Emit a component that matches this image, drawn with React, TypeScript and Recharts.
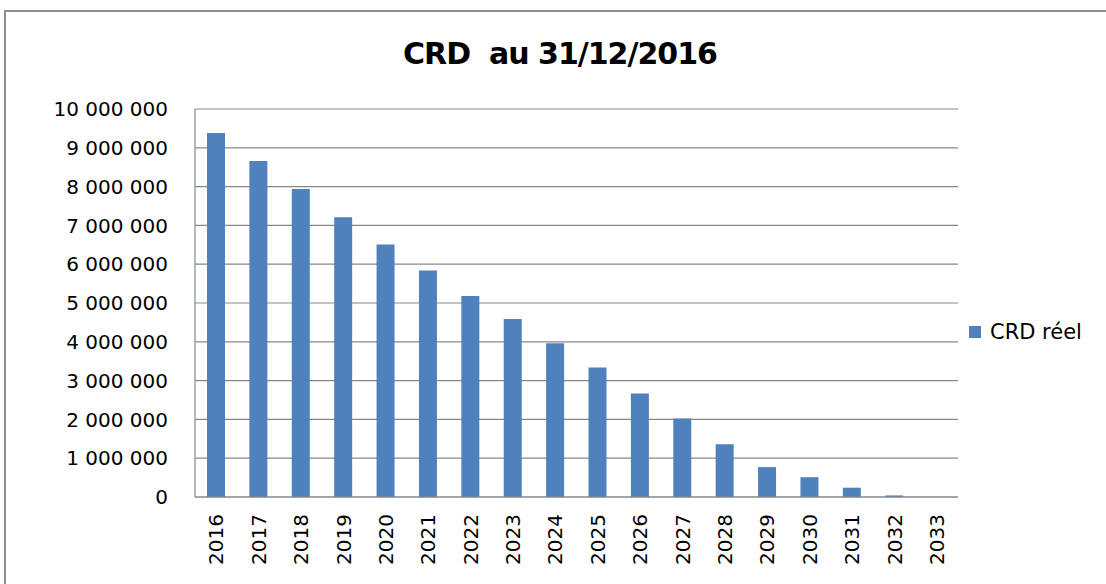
import { BarChart, Bar, XAxis, YAxis, CartesianGrid, Legend } from 'recharts';

const years = [
  '2016', '2017', '2018', '2019', '2020', '2021', '2022', '2023', '2024',
  '2025', '2026', '2027', '2028', '2029', '2030', '2031', '2032', '2033',
];

const crdReel = [
  9380000, 8660000, 7940000, 7210000, 6510000, 5840000, 5180000, 4590000, 3960000,
  3340000, 2670000, 2020000, 1360000, 770000, 510000, 240000, 40000, 0,
];

const yTicks = [0, 1000000, 2000000, 3000000, 4000000, 5000000, 6000000, 7000000, 8000000, 9000000, 10000000];

const data = years.map((year, i) => ({ year, crd: crdReel[i] }));

const FONT = '"DejaVu Sans", sans-serif';
const BLUE = '#4F81BD';
const GRID = '#878787';

const formatNumber = (v: number) => String(v).replace(/\B(?=(\d{3})+(?!\d))/g, ' ');

const YearTick = ({ x, y, payload }: any) => (
  <text
    x={x}
    y={y}
    transform={`rotate(-90, ${x}, ${y})`}
    textAnchor="end"
    dy="0.36em"
    fontFamily={FONT}
    fontSize={20}
    fill="#000"
  >
    {payload.value}
  </text>
);

const LegendBox = () => (
  <div style={{ display: 'flex', alignItems: 'center', fontFamily: FONT, fontSize: 21, color: '#000' }}>
    <span style={{ width: 12, height: 12, background: BLUE, display: 'inline-block', marginRight: 9 }} />
    <span>CRD réel</span>
  </div>
);

export default function App() {
  return (
    <div style={{ position: 'absolute', left: 0, top: 0, width: 1106, height: 584, background: '#fff', overflow: 'hidden' }}>
      <div
        style={{
          position: 'absolute',
          left: 4,
          top: 10,
          width: 1120,
          height: 600,
          borderTop: '2px solid #8e8e8e',
          borderLeft: '2px solid #8e8e8e',
        }}
      />
      <div
        style={{
          position: 'absolute',
          left: 0,
          top: 36,
          width: 1120,
          textAlign: 'center',
          fontFamily: FONT,
          fontWeight: 'bold',
          fontSize: 30,
          letterSpacing: -1,
          whiteSpace: 'pre',
          color: '#000',
        }}
      >
        CRD  au 31/12/2016
      </div>
      <div style={{ position: 'absolute', left: 0, top: 0 }}>
        <BarChart
          width={1106}
          height={584}
          data={data}
          margin={{ top: 109, right: 18, left: 0, bottom: 0 }}
        >
          <CartesianGrid vertical={false} stroke={GRID} strokeWidth={1.2} />
          <XAxis
            dataKey="year"
            height={87}
            interval={0}
            tickLine={false}
            axisLine={{ stroke: GRID, strokeWidth: 1.2 }}
            tickMargin={11}
            tick={<YearTick />}
          />
          <YAxis
            width={195}
            domain={[0, 10000000]}
            ticks={yTicks}
            interval={0}
            tickLine={false}
            axisLine={{ stroke: GRID, strokeWidth: 1.2 }}
            tickMargin={21}
            tickFormatter={formatNumber}
            tick={{ fontFamily: FONT, fontSize: 20, fill: '#000' }}
          />
          <Legend
            layout="vertical"
            align="right"
            verticalAlign="middle"
            content={<LegendBox />}
            wrapperStyle={{ left: 969, top: 320, width: 130 }}
          />
          <Bar dataKey="crd" name="CRD réel" fill={BLUE} barSize={18} isAnimationActive={false} />
        </BarChart>
      </div>
    </div>
  );
}
